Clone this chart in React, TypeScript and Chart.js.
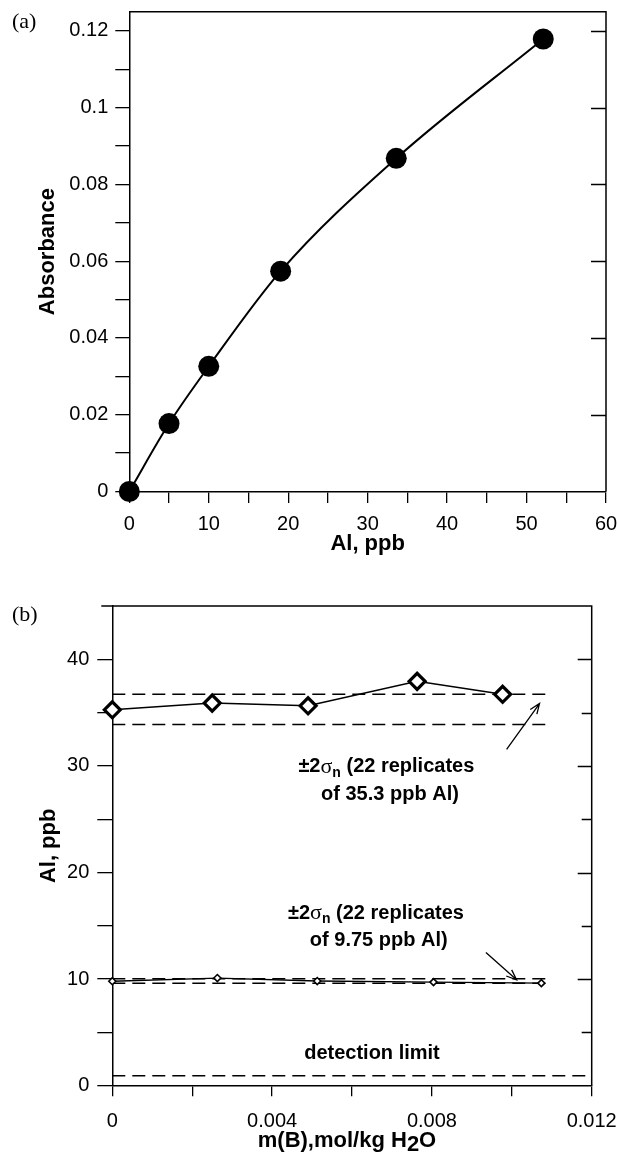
import React, { useEffect, useRef } from 'react';
import { Chart, registerables } from 'chart.js';

Chart.register(...registerables);

const SANS = "'Liberation Sans', Arial, Helvetica, sans-serif";
const SERIF = "'Liberation Serif', 'Times New Roman', serif";

// ---------- Chart (a): calibration curve ----------
const alPpbA = [0, 5, 10, 19.05, 33.6, 52.1];
const absorbanceA = [0, 0.0177, 0.0326, 0.0574, 0.0868, 0.1179];
const xMajorA = [0, 10, 20, 30, 40, 50, 60];
const xMajorLabelsA = ['0', '10', '20', '30', '40', '50', '60'];
const xMinorA = [5, 15, 25, 35, 45, 55];
const yMajorA = [0, 0.02, 0.04, 0.06, 0.08, 0.1, 0.12];
const yMajorLabelsA = ['0', '0.02', '0.04', '0.06', '0.08', '0.1', '0.12'];
const yMinorA = [0.01, 0.03, 0.05, 0.07, 0.09, 0.11];

// ---------- Chart (b): Al vs m(B) ----------
const mB35 = [0, 0.0025, 0.0049, 0.00763, 0.00977];
const al35 = [35.26, 35.89, 35.64, 37.93, 36.72];
const mB10 = [0, 0.00263, 0.00513, 0.00804, 0.01074];
const al10 = [9.8, 10.1, 9.82, 9.72, 9.62];
const band35 = [33.88, 36.72];
const band10 = [9.6, 10.03];
const bandXRange = [0, 0.011];
const detectionLimit = 0.93;
const detectionXRange = [0, 0.012];
const xMajorB = [0, 0.004, 0.008, 0.012];
const xMajorLabelsB = ['0', '0.004', '0.008', '0.012'];
const xMinorB = [0.002, 0.006, 0.01];
const yMajorB = [0, 10, 20, 30, 40];
const yMajorLabelsB = ['0', '10', '20', '30', '40'];
const yMinorB = [5, 15, 25, 35];

// annotation texts (b)
const noteLine1 = ['±2', 'σ', 'n', ' (22 replicates'];
const note35Line2 = 'of 35.3 ppb Al)';
const note10Line2 = 'of 9.75 ppb Al)';
const detectionText = 'detection limit';

const near = (a: number, b: number) => Math.abs(a - b) < 1e-9;
const labelFor = (v: number, vals: number[], labels: string[]) => {
  const i = vals.findIndex((m) => near(m, v));
  return i >= 0 ? labels[i] : '';
};
const sorted = (a: number[], b: number[]) => [...a, ...b].sort((p, q) => p - q);

type Part = { text: string; font: string; dy?: number };
function drawRich(ctx: CanvasRenderingContext2D, parts: Part[], cx: number, cy: number) {
  let total = 0;
  parts.forEach((p) => {
    ctx.font = p.font;
    total += ctx.measureText(p.text).width;
  });
  let x = cx - total / 2;
  ctx.textAlign = 'left';
  ctx.textBaseline = 'middle';
  parts.forEach((p) => {
    ctx.font = p.font;
    ctx.fillText(p.text, x, cy + (p.dy || 0));
    x += ctx.measureText(p.text).width;
  });
}

function drawArrow(ctx: CanvasRenderingContext2D, x1: number, y1: number, x2: number, y2: number) {
  const ang = Math.atan2(y2 - y1, x2 - x1);
  const hl = 11;
  const spread = 0.38;
  ctx.beginPath();
  ctx.moveTo(x1, y1);
  ctx.lineTo(x2, y2);
  ctx.moveTo(x2 - hl * Math.cos(ang - spread), y2 - hl * Math.sin(ang - spread));
  ctx.lineTo(x2, y2);
  ctx.lineTo(x2 - hl * Math.cos(ang + spread), y2 - hl * Math.sin(ang + spread));
  ctx.stroke();
}

function framePlugin(id: string, topExtend: number, rightTicks: [number, number][], panel: string, panelY: number) {
  return {
    id,
    afterDraw(chart: any) {
      const { ctx, chartArea: ca, scales } = chart;
      ctx.save();
      ctx.strokeStyle = '#000';
      ctx.lineWidth = 1.5;
      ctx.beginPath();
      ctx.moveTo(ca.left - topExtend, ca.top);
      ctx.lineTo(ca.right, ca.top);
      ctx.lineTo(ca.right, ca.bottom);
      ctx.stroke();
      ctx.lineWidth = 1.3;
      ctx.beginPath();
      rightTicks.forEach(([v, len]) => {
        const y = Math.round(scales.y.getPixelForValue(v)) + 0.5;
        ctx.moveTo(ca.right, y);
        ctx.lineTo(ca.right - len, y);
      });
      ctx.stroke();
      ctx.fillStyle = '#000';
      ctx.font = `22px ${SERIF}`;
      ctx.textAlign = 'left';
      ctx.textBaseline = 'middle';
      ctx.fillText(panel, 12, panelY);
      ctx.restore();
    },
  };
}

const tickFont = { size: 20, family: SANS };
const titleFont = { size: 22, weight: 'bold' as const, family: SANS };

function buildA(canvas: HTMLCanvasElement) {
  const xTicks = sorted(xMajorA, xMinorA);
  const yTicks = sorted(yMajorA, yMinorA);
  return new Chart(canvas, {
    type: 'line',
    data: {
      datasets: [
        {
          data: alPpbA.map((x, i) => ({ x, y: absorbanceA[i] })),
          borderColor: '#000',
          borderWidth: 2,
          pointRadius: 10.5,
          pointBackgroundColor: '#000',
          pointBorderColor: '#000',
          pointBorderWidth: 0,
          cubicInterpolationMode: 'monotone',
          fill: false,
          clip: false as any,
        },
      ],
    },
    options: {
      responsive: false,
      animation: false,
      devicePixelRatio: 1,
      events: [],
      layout: { padding: { top: 11.7, right: 12, bottom: 0, left: 0 } },
      plugins: { legend: { display: false }, tooltip: { enabled: false } },
      scales: {
        x: {
          type: 'linear',
          position: 'bottom',
          min: 0,
          max: 60,
          afterBuildTicks: (s: any) => {
            s.ticks = xTicks.map((v) => ({ value: v }));
          },
          afterFit: (s: any) => {
            s.height = 68.5;
            s.paddingLeft = 0;
            s.paddingRight = 0;
          },
          ticks: {
            callback: (v: any) => labelFor(Number(v), xMajorA, xMajorLabelsA),
            padding: 9,
            font: tickFont,
            color: '#000',
            maxRotation: 0,
            autoSkip: false,
          },
          grid: { drawOnChartArea: false, tickLength: 11.5, color: '#000', lineWidth: 1.3 },
          border: { color: '#000', width: 1.5 },
          title: { display: true, text: 'Al, ppb', font: titleFont, color: '#000', padding: { top: 0, bottom: 2.5 } },
        },
        y: {
          type: 'linear',
          position: 'left',
          min: 0,
          max: 0.125,
          afterBuildTicks: (s: any) => {
            s.ticks = yTicks.map((v) => ({ value: v }));
          },
          afterFit: (s: any) => {
            s.width = 129.3;
            s.paddingTop = 0;
            s.paddingBottom = 0;
          },
          ticks: {
            callback: (v: any) => labelFor(Number(v), yMajorA, yMajorLabelsA),
            padding: 7,
            font: tickFont,
            color: '#000',
            autoSkip: false,
          },
          grid: { drawOnChartArea: false, tickLength: 14, color: '#000', lineWidth: 1.3 },
          border: { color: '#000', width: 1.5 },
          title: { display: true, text: 'Absorbance', font: titleFont, color: '#000', padding: { top: 34.3, bottom: 0 } },
        },
      },
    } as any,
    plugins: [
      framePlugin(
        'frameA',
        0,
        yMajorA.filter((v) => v > 0).map((v) => [v, 15] as [number, number]),
        '(a)',
        22.5
      ),
    ],
  });
}

function buildB(canvas: HTMLCanvasElement) {
  const xTicks = sorted(xMajorB, xMinorB);
  const yTicks = sorted(yMajorB, yMinorB);
  const dashed = (y: number, xr: number[]) => ({
    data: [
      { x: xr[0], y },
      { x: xr[1], y },
    ],
    borderColor: '#000',
    borderWidth: 1.5,
    borderDash: [13, 7],
    pointRadius: 0,
    fill: false,
  });
  const annotations = {
    id: 'annotB',
    afterDatasetsDraw(chart: any) {
      const { ctx, scales, chartArea: ca } = chart;
      const px = (v: number) => scales.x.getPixelForValue(v);
      const py = (v: number) => scales.y.getPixelForValue(v);
      ctx.save();
      ctx.fillStyle = '#000';
      ctx.strokeStyle = '#000';
      ctx.lineWidth = 1.3;
      const bold = `bold 20px ${SANS}`;
      const line1: Part[] = [
        { text: noteLine1[0], font: bold },
        { text: noteLine1[1], font: `22px ${SERIF}` },
        { text: noteLine1[2], font: `bold 14px ${SANS}`, dy: 6 },
        { text: noteLine1[3], font: bold },
      ];
      drawRich(ctx, line1, px(0.00686), py(29.9));
      drawRich(ctx, [{ text: note35Line2, font: bold }], px(0.00695), py(27.3));
      drawRich(ctx, line1, px(0.0066), py(16.2));
      drawRich(ctx, [{ text: note10Line2, font: bold }], px(0.00667), py(13.6));
      drawRich(ctx, [{ text: detectionText, font: bold }], px(0.0065), py(3.0));
      drawArrow(ctx, px(0.00987), py(31.56), px(0.010694), py(35.85));
      drawArrow(ctx, px(0.009352), py(12.5), px(0.01012), py(9.94));
      // x-axis title with subscript
      const tf = `bold 22px ${SANS}`;
      drawRich(
        ctx,
        [
          { text: 'm(B),mol/kg H', font: tf },
          { text: '2', font: tf, dy: 4 },
          { text: 'O', font: tf },
        ],
        (ca.left + ca.right) / 2 - 5,
        561
      );
      ctx.restore();
    },
  };
  return new Chart(canvas, {
    type: 'line',
    data: {
      datasets: [
        {
          data: mB35.map((x, i) => ({ x, y: al35[i] })),
          borderColor: '#000',
          borderWidth: 1.5,
          pointStyle: 'rectRot',
          pointRadius: 8,
          pointBackgroundColor: '#fff',
          pointBorderColor: '#000',
          pointBorderWidth: 3.2,
          tension: 0,
          fill: false,
          clip: false as any,
        },
        {
          data: mB10.map((x, i) => ({ x, y: al10[i] })),
          borderColor: '#000',
          borderWidth: 1.3,
          pointStyle: 'rectRot',
          pointRadius: 3.5,
          pointBackgroundColor: '#fff',
          pointBorderColor: '#000',
          pointBorderWidth: 1.6,
          tension: 0,
          fill: false,
          clip: false as any,
        },
        dashed(band35[0], bandXRange),
        dashed(band35[1], bandXRange),
        dashed(band10[0], bandXRange),
        dashed(band10[1], bandXRange),
        dashed(detectionLimit, detectionXRange),
      ],
    },
    options: {
      responsive: false,
      animation: false,
      devicePixelRatio: 1,
      events: [],
      layout: { padding: { top: 26, right: 26.3, bottom: 0, left: 0 } },
      plugins: { legend: { display: false }, tooltip: { enabled: false } },
      scales: {
        x: {
          type: 'linear',
          position: 'bottom',
          min: 0,
          max: 0.012,
          afterBuildTicks: (s: any) => {
            s.ticks = xTicks.map((v) => ({ value: v }));
          },
          afterFit: (s: any) => {
            s.height = 71.3;
            s.paddingLeft = 0;
            s.paddingRight = 0;
          },
          ticks: {
            callback: (v: any) => labelFor(Number(v), xMajorB, xMajorLabelsB),
            padding: 13.3,
            font: tickFont,
            color: '#000',
            maxRotation: 0,
            autoSkip: false,
          },
          grid: { drawOnChartArea: false, tickLength: 10.5, color: '#000', lineWidth: 1.3 },
          border: { color: '#000', width: 1.5 },
          title: { display: false },
        },
        y: {
          type: 'linear',
          position: 'left',
          min: 0,
          max: 45,
          afterBuildTicks: (s: any) => {
            s.ticks = yTicks.map((v) => ({ value: v }));
          },
          afterFit: (s: any) => {
            s.width = 112.3;
            s.paddingTop = 0;
            s.paddingBottom = 0;
          },
          ticks: {
            callback: (v: any) => labelFor(Number(v), yMajorB, yMajorLabelsB),
            padding: 8,
            font: tickFont,
            color: '#000',
            autoSkip: false,
          },
          grid: { drawOnChartArea: false, tickLength: 15, color: '#000', lineWidth: 1.3 },
          border: { color: '#000', width: 1.5 },
          title: { display: true, text: 'Al, ppb', font: titleFont, color: '#000', padding: { top: 36, bottom: 0 } },
        },
      },
    } as any,
    plugins: [
      framePlugin(
        'frameB',
        11,
        yTicks.filter((v) => v > 0).map((v) => [v, yMajorB.some((m) => near(m, v)) ? 14 : 10] as [number, number]),
        '(b)',
        35.5
      ),
      annotations,
    ],
  });
}

export default function App() {
  const refA = useRef<HTMLCanvasElement>(null);
  const refB = useRef<HTMLCanvasElement>(null);
  useEffect(() => {
    const a = refA.current ? buildA(refA.current) : null;
    const b = refB.current ? buildB(refB.current) : null;
    return () => {
      a?.destroy();
      b?.destroy();
    };
  }, []);
  return (
    <div style={{ position: 'absolute', left: 0, top: 0, width: 618, height: 1157, background: '#fff' }}>
      <canvas
        ref={refA}
        width={618}
        height={560}
        style={{ position: 'absolute', left: 0, top: 0, width: 618, height: 560 }}
      />
      <canvas
        ref={refB}
        width={618}
        height={577}
        style={{ position: 'absolute', left: 0, top: 580, width: 618, height: 577 }}
      />
    </div>
  );
}
